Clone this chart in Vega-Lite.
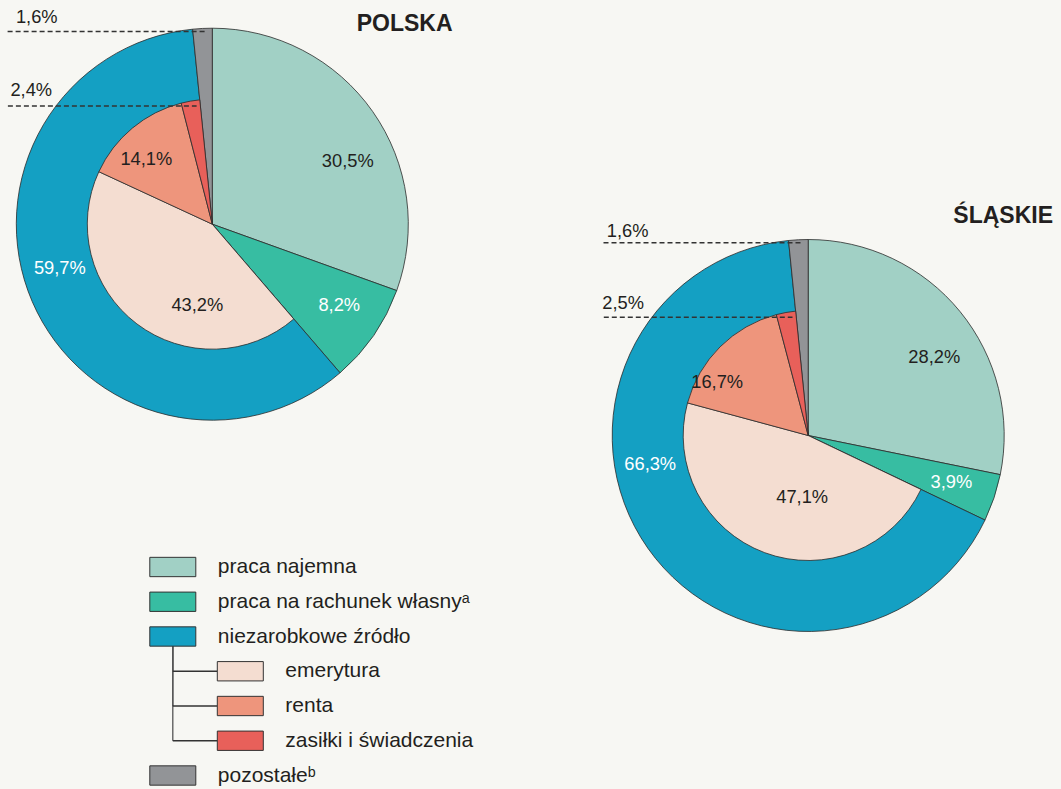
{
  "$schema": "https://vega.github.io/schema/vega-lite/v6.json",
  "width": 1061,
  "height": 789,
  "autosize": {"type": "fit", "contains": "padding"},
  "padding": 0,
  "background": "#f7f7f3",
  "config": {"view": {"stroke": null}, "font": "Liberation Sans"},
  "datasets": {
    "segments": [
      {"region": "Polska", "ring": "outer", "category": "praca najemna", "start": 0, "end": 30.5},
      {"region": "Polska", "ring": "outer", "category": "praca na rachunek własny", "start": 30.5, "end": 38.7},
      {"region": "Polska", "ring": "outer", "category": "niezarobkowe źródło", "start": 38.7, "end": 98.4},
      {"region": "Polska", "ring": "outer", "category": "pozostałe", "start": 98.4, "end": 100},
      {"region": "Polska", "ring": "inner", "category": "emerytura", "start": 38.7, "end": 81.9},
      {"region": "Polska", "ring": "inner", "category": "renta", "start": 81.9, "end": 96.0},
      {"region": "Polska", "ring": "inner", "category": "zasiłki i świadczenia", "start": 96.0, "end": 98.4},
      {"region": "Śląskie", "ring": "outer", "category": "praca najemna", "start": 0, "end": 28.2},
      {"region": "Śląskie", "ring": "outer", "category": "praca na rachunek własny", "start": 28.2, "end": 32.1},
      {"region": "Śląskie", "ring": "outer", "category": "niezarobkowe źródło", "start": 32.1, "end": 98.4},
      {"region": "Śląskie", "ring": "outer", "category": "pozostałe", "start": 98.4, "end": 100},
      {"region": "Śląskie", "ring": "inner", "category": "emerytura", "start": 32.1, "end": 79.2},
      {"region": "Śląskie", "ring": "inner", "category": "renta", "start": 79.2, "end": 95.9},
      {"region": "Śląskie", "ring": "inner", "category": "zasiłki i świadczenia", "start": 95.9, "end": 98.4}
    ],
    "labels": [
      {"region": "Polska", "kind": "value", "category": "praca najemna", "label": "30,5%", "at": 18.17, "rr": 76.0},
      {"region": "Polska", "kind": "value", "category": "praca na rachunek własny", "label": "8,2%", "at": 34.13, "rr": 77.1},
      {"region": "Polska", "kind": "value", "category": "niezarobkowe źródło", "label": "59,7%", "at": 70.43, "rr": 81.1},
      {"region": "Polska", "kind": "value", "category": "emerytura", "label": "43,2%", "at": 52.88, "rr": 42.5},
      {"region": "Polska", "kind": "value", "category": "renta", "label": "14,1%", "at": 87.26, "rr": 46.9},
      {"region": "Polska", "kind": "value", "category": "pozostałe", "label": "1,6%", "at": 88.76, "rr": 138.0},
      {"region": "Polska", "kind": "value", "category": "zasiłki i świadczenia", "label": "2,4%", "at": 85.10, "rr": 114.7},
      {"region": "Polska", "kind": "title", "category": "title", "label": "POLSKA", "at": 12.16, "rr": 141.8},
      {"region": "Śląskie", "kind": "value", "category": "praca najemna", "label": "28,2%", "at": 16.22, "rr": 75.5},
      {"region": "Śląskie", "kind": "value", "category": "praca na rachunek własny", "label": "3,9%", "at": 30.13, "rr": 77.0},
      {"region": "Śląskie", "kind": "value", "category": "niezarobkowe źródło", "label": "66,3%", "at": 72.06, "rr": 82.0},
      {"region": "Śląskie", "kind": "value", "category": "emerytura", "label": "47,1%", "at": 51.52, "rr": 32.2},
      {"region": "Śląskie", "kind": "value", "category": "renta", "label": "16,7%", "at": 83.33, "rr": 53.6},
      {"region": "Śląskie", "kind": "value", "category": "pozostałe", "label": "1,6%", "at": 88.45, "rr": 138.8},
      {"region": "Śląskie", "kind": "value", "category": "zasiłki i świadczenia", "label": "2,5%", "at": 84.85, "rr": 115.9},
      {"region": "Śląskie", "kind": "title", "category": "title", "label": "ŚLĄSKIE", "at": 11.56, "rr": 149.8}
    ],
    "legend": [
      {"category": "praca najemna", "label": "praca najemna", "level": 0},
      {"category": "praca na rachunek własny", "label": "praca na rachunek własnyᵃ", "level": 0},
      {"category": "niezarobkowe źródło", "label": "niezarobkowe źródło", "level": 0},
      {"category": "emerytura", "label": "emerytura", "level": 1},
      {"category": "renta", "label": "renta", "level": 1},
      {"category": "zasiłki i świadczenia", "label": "zasiłki i świadczenia", "level": 1},
      {"category": "pozostałe", "label": "pozostałeᵇ", "level": 0}
    ]
  },
  "layer": [
    {
      "encoding": {
        "x": {"field": "region", "type": "nominal", "axis": null, "scale": {"type": "point", "domain": ["Polska", "Śląskie"], "range": [212.3, 808.2], "padding": 0}},
        "y": {"field": "region", "type": "nominal", "axis": null, "scale": {"type": "point", "domain": ["Polska", "Śląskie"], "range": [224.2, 435.5], "padding": 0}}
      },
      "layer": [
        {
          "data": {"name": "segments"},
          "transform": [{"filter": "datum.ring === 'outer'"}],
          "mark": {"type": "arc", "outerRadius": 196, "innerRadius": 0, "stroke": "#2b2b2b", "strokeWidth": 0.8},
          "encoding": {
            "theta": {"field": "start", "type": "quantitative", "stack": null, "scale": {"domain": [0, 100]}},
            "theta2": {"field": "end"},
            "color": {"field": "category", "type": "nominal", "legend": null,
              "scale": {"domain": ["praca najemna", "praca na rachunek własny", "niezarobkowe źródło", "emerytura", "renta", "zasiłki i świadczenia", "pozostałe"],
                        "range": ["#a1d0c5", "#37bda2", "#14a0c3", "#f4ddd1", "#ee957c", "#e8605a", "#929497"]}}
          }
        },
        {
          "data": {"name": "segments"},
          "transform": [{"filter": "datum.ring === 'inner'"}],
          "mark": {"type": "arc", "outerRadius": 125, "innerRadius": 0, "stroke": "#2b2b2b", "strokeWidth": 0.8},
          "encoding": {
            "theta": {"field": "start", "type": "quantitative", "stack": null, "scale": {"domain": [0, 100]}},
            "theta2": {"field": "end"},
            "color": {"field": "category", "type": "nominal", "legend": null}
          }
        },
        {
          "data": {"name": "labels"},
          "transform": [{"filter": "datum.category === 'pozostałe'"}],
          "mark": {"type": "rule", "color": "#333333", "strokeWidth": 1.5, "strokeDash": [5, 3], "xOffset": -204.7, "x2Offset": -5.2, "yOffset": -192.7},
          "encoding": {"x2": {"field": "region"}}
        },
        {
          "data": {"name": "labels"},
          "transform": [{"filter": "datum.category === 'zasiłki i świadczenia'"}],
          "mark": {"type": "rule", "color": "#333333", "strokeWidth": 1.5, "strokeDash": [5, 3], "xOffset": -204.4, "x2Offset": -15.7, "yOffset": -118.2},
          "encoding": {"x2": {"field": "region"}}
        },
        {
          "data": {"name": "labels"},
          "transform": [{"filter": "datum.kind === 'value'"}],
          "mark": {"type": "text", "align": "center", "baseline": "middle", "fontSize": 18.3},
          "encoding": {
            "theta": {"field": "at", "type": "quantitative", "stack": null, "scale": {"domain": [0, 100]}},
            "radius": {"field": "rr", "type": "quantitative", "scale": {"type": "linear", "domain": [0, 100], "range": [0, 196], "zero": true}},
            "text": {"field": "label"},
            "color": {"condition": {"test": "datum.category === 'niezarobkowe źródło' || datum.category === 'praca na rachunek własny'", "value": "#ffffff"}, "value": "#231f20"}
          }
        },
        {
          "data": {"name": "labels"},
          "transform": [{"filter": "datum.kind === 'title'"}],
          "mark": {"type": "text", "align": "center", "baseline": "middle", "fontSize": 23, "fontWeight": "bold", "color": "#231f20"},
          "encoding": {
            "theta": {"field": "at", "type": "quantitative", "stack": null, "scale": {"domain": [0, 100]}},
            "radius": {"field": "rr", "type": "quantitative", "scale": {"type": "linear", "domain": [0, 100], "range": [0, 196], "zero": true}},
            "text": {"field": "label"}
          }
        }
      ]
    },
    {
      "data": {"name": "legend"},
      "encoding": {
        "x": {"field": "level", "type": "quantitative", "axis": null, "scale": {"domain": [0, 1], "range": [172.8, 240.3]}},
        "y": {"field": "category", "type": "nominal", "axis": null, "sort": null,
              "scale": {"type": "point", "domain": ["praca najemna", "praca na rachunek własny", "niezarobkowe źródło", "emerytura", "renta", "zasiłki i świadczenia", "pozostałe"], "range": [567, 775.5], "padding": 0}}
      },
      "layer": [
        {
          "transform": [{"filter": "datum.level === 1"}],
          "mark": {"type": "rule", "color": "#555555", "strokeWidth": 1.3, "yOffset": 9.5},
          "encoding": {
            "x": {"datum": 0, "type": "quantitative"},
            "y": {"datum": "niezarobkowe źródło", "type": "nominal"},
            "y2": {"field": "category"}
          }
        },
        {
          "transform": [{"filter": "datum.level === 1"}],
          "mark": {"type": "rule", "color": "#333333", "strokeWidth": 1.3, "x2Offset": -23},
          "encoding": {
            "x": {"datum": 0, "type": "quantitative"},
            "x2": {"field": "level"}
          }
        },
        {
          "mark": {"type": "point", "shape": "M-1,-0.42L1,-0.42L1,0.42L-1,0.42Z", "size": 2116, "filled": true, "opacity": 1, "stroke": "#333333", "strokeWidth": 1},
          "encoding": {
            "color": {"field": "category", "type": "nominal", "legend": null}
          }
        },
        {
          "mark": {"type": "text", "align": "left", "baseline": "middle", "dx": 45, "fontSize": 21, "color": "#231f20"},
          "encoding": {"text": {"field": "label"}}
        }
      ]
    }
  ],
  "resolve": {"scale": {"x": "independent", "y": "independent"}}
}
